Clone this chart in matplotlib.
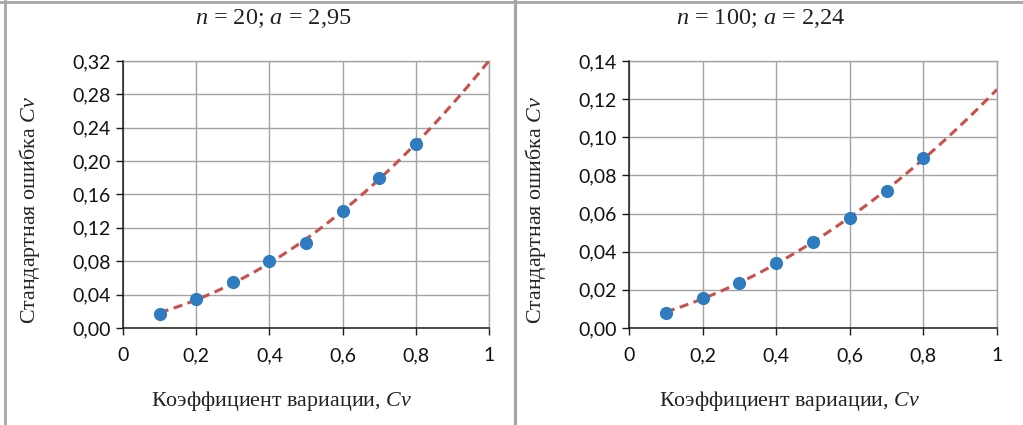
import numpy as np
import matplotlib
matplotlib.use("Agg")
import matplotlib.pyplot as plt
from matplotlib.lines import Line2D
from matplotlib.ticker import FuncFormatter

# Data
cv = [0.1, 0.2, 0.3, 0.4, 0.5, 0.6, 0.7, 0.8]
err_n20 = [0.017, 0.035, 0.055, 0.080, 0.102, 0.140, 0.180, 0.221]
err_n100 = [0.0079, 0.0159, 0.0238, 0.0341, 0.0451, 0.0578, 0.0717, 0.0893]

titles = ["n = 20; a = 2,95", "n = 100; a = 2,24"]
y_ticks_n20 = [0.00, 0.04, 0.08, 0.12, 0.16, 0.20, 0.24, 0.28, 0.32]
y_ticks_n100 = [0.00, 0.02, 0.04, 0.06, 0.08, 0.10, 0.12, 0.14]
x_ticks = [0, 0.2, 0.4, 0.6, 0.8, 1]

BLUE = "#2e7bbf"
RED = "#c9504c"
GRID = "#a3a3a3"
FRAME = "#a6a6a6"
TICK_FONT = "Lato"
SERIF = "Liberation Serif"

W, H = 1023, 425
fig = plt.figure(figsize=(W / 100, H / 100), dpi=100)

plt.rcParams["mathtext.fontset"] = "custom"
plt.rcParams["mathtext.it"] = "Liberation Serif:italic"
plt.rcParams["mathtext.rm"] = "Liberation Serif"


def comma_fmt(decimals):
    def f(v, pos):
        if decimals == 0:
            s = "{:g}".format(round(v, 2))
        else:
            s = "{:.{}f}".format(v, decimals)
        return s.replace(".", ",")
    return FuncFormatter(f)


def draw_panel(rect, y, yticks, title_xy, xlabel_xy, ylabel_xy, title):
    ax = fig.add_axes(rect)
    # quadratic trend line, as in the spreadsheet
    coef = np.polyfit(cv, y, 2)
    xs = np.linspace(0.1, 1.0, 100)
    ax.plot(xs, np.polyval(coef, xs), color=RED, lw=2.2, ls=(0, (3.0, 1.8)), zorder=3)
    ax.plot(cv, y, "o", color=BLUE, markersize=9.5, zorder=4, markeredgewidth=0)

    ax.set_xlim(0, 1)
    ax.set_ylim(yticks[0], yticks[-1])
    ax.set_xticks(x_ticks)
    ax.set_yticks(yticks)
    ax.xaxis.set_major_formatter(comma_fmt(0))
    ax.yaxis.set_major_formatter(comma_fmt(2))
    ax.grid(True, color=GRID, lw=1.0)
    ax.set_axisbelow(True)
    for s in ["top", "right"]:
        ax.spines[s].set_visible(False)
    for s in ["left", "bottom"]:
        ax.spines[s].set_color("#1a1a1a")
        ax.spines[s].set_linewidth(1.1)
        ax.spines[s].set_zorder(2)
    ax.tick_params(direction="out", length=5, width=1.0, color="#1a1a1a",
                   labelsize=14, labelcolor="#111111")
    ax.tick_params(axis="x", pad=9)
    ax.tick_params(axis="y", pad=4)
    for lab in ax.get_xticklabels() + ax.get_yticklabels():
        lab.set_fontfamily(TICK_FONT)

    # the right/top grid lines act as the frame
    ax.axvline(1, color=GRID, lw=1.0, zorder=1, clip_on=False)
    ax.axhline(yticks[-1], color=GRID, lw=1.0, zorder=1, clip_on=False)

    n_part, a_part = title.split("; ")
    fig.text(title_xy[0] / W, 1 - title_xy[1] / H,
             r"$\it{n}$" + n_part[1:] + "; " + r"$\it{a}$" + a_part[1:],
             ha="center", va="center", fontsize=17.5, family=SERIF, color="#222222")
    fig.text(xlabel_xy[0] / W, 1 - xlabel_xy[1] / H,
             "Коэффициент вариации, " + r"$\it{Cv}$",
             ha="center", va="center", fontsize=15.8, family=SERIF, color="#222222")
    fig.text(ylabel_xy[0] / W, 1 - ylabel_xy[1] / H,
             "Стандартная ошибка " + r"$\it{Cv}$",
             ha="center", va="center", rotation=90, fontsize=15.8, family=SERIF,
             color="#222222")
    return ax


draw_panel([123 / W, 1 - 328 / H, 366 / W, 267 / H], err_n20, y_ticks_n20,
           (273, 19), (282, 401), (30, 210), titles[0])
draw_panel([629 / W, 1 - 328 / H, 368 / W, 267 / H], err_n100, y_ticks_n100,
           (761, 19), (790, 401), (536, 210), titles[1])

# panel frames
fig.add_artist(Line2D([0, 1], [1 - 1.5 / H, 1 - 1.5 / H], color=FRAME, lw=2.0,
                      transform=fig.transFigure))
fig.add_artist(Line2D([4.5 / W, 4.5 / W], [0, 1], color=FRAME, lw=2.0,
                      transform=fig.transFigure))
fig.add_artist(Line2D([514.5 / W, 514.5 / W], [0, 1], color=FRAME, lw=2.3,
                      transform=fig.transFigure))

fig.savefig("out.png", dpi=100)
